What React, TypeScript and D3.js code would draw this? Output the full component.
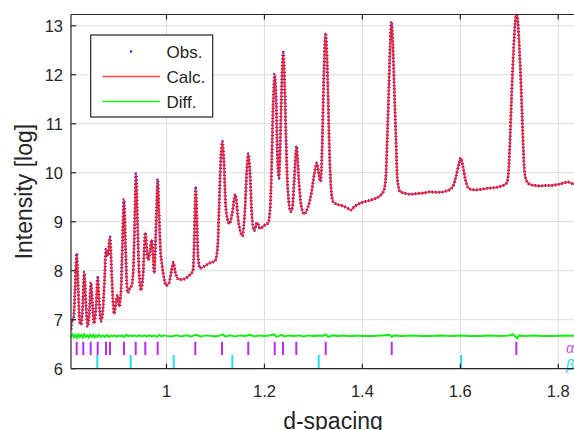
import React from 'react';
import * as d3 from 'd3';

// ---- data ----
const xTickValues = [1, 1.2, 1.4, 1.6, 1.8];
const xTickLabels = ['1', '1.2', '1.4', '1.6', '1.8'];
const yTickValues = [6, 7, 8, 9, 10, 11, 12, 13];
const yTickLabels = ['6', '7', '8', '9', '10', '11', '12', '13'];

// observed profile [d-spacing, log intensity]
const obsProfile: [number, number][] = [
  [0.805, 6.8], [0.807, 7.0], [0.8101, 7.0], [0.8132, 7.6], [0.8166, 8.35], [0.8199, 7.6], [0.8228, 6.95], [0.8254, 6.9],
  [0.8285, 7.2], [0.8321, 7.97], [0.8356, 7.3], [0.8391, 6.86],
  [0.8428, 7.2], [0.8458, 7.76], [0.8489, 7.3], [0.852, 6.92],
  [0.8564, 7.3], [0.8595, 7.86], [0.8626, 7.35], [0.8656, 6.97],
  [0.8693, 7.1], [0.8734, 7.8], [0.8765, 8.44], [0.8801, 8.3], [0.8846, 8.69], [0.8883, 7.9], [0.8928, 7.12],
  [0.8969, 7.35], [0.9004, 7.5], [0.9036, 7.27],
  [0.9071, 7.6], [0.9102, 8.6], [0.9132, 9.46], [0.9163, 8.5], [0.9204, 7.55],
  [0.9255, 7.65], [0.9289, 7.7],
  [0.9322, 8.0], [0.9351, 9.0], [0.9377, 9.98], [0.9408, 9.0], [0.9439, 8.0], [0.9479, 7.6],
  [0.952, 7.9], [0.9567, 8.78], [0.9612, 8.3], [0.9628, 8.22], [0.9663, 8.4], [0.9698, 8.63], [0.9724, 8.3], [0.9751, 7.95],
  [0.9771, 8.4], [0.9796, 9.2], [0.982, 9.87], [0.9847, 9.2], [0.9878, 8.4], [0.9908, 8.12], [0.9949, 7.85], [0.999, 7.7],
  [1.0051, 7.75], [1.0102, 8.0], [1.0139, 8.17], [1.0184, 7.95], [1.0241, 7.83],
  [1.0317, 7.82], [1.0398, 7.85], [1.048, 7.92], [1.0541, 8.0],
  [1.0558, 8.3], [1.0578, 9.1], [1.0596, 9.69], [1.0619, 9.1], [1.0643, 8.3], [1.0684, 8.05],
  [1.0786, 8.1], [1.0888, 8.16], [1.0991, 8.2], [1.1042, 8.45], [1.1075, 9.3], [1.1108, 10.25], [1.114, 10.64],
  [1.1172, 10.25], [1.1205, 9.4], [1.1246, 9.05], [1.1287, 8.96],
  [1.1338, 9.15], [1.1405, 9.56], [1.147, 9.0], [1.1552, 8.71],
  [1.1605, 9.3], [1.164, 10.05], [1.1671, 10.39], [1.1703, 10.05], [1.174, 9.2], [1.1787, 8.82],
  [1.1854, 8.98], [1.1909, 8.86], [1.1991, 8.92], [1.2079, 8.98], [1.2124, 9.4],
  [1.215, 10.3], [1.2178, 11.4], [1.221, 12.02], [1.2242, 11.4], [1.2267, 10.3], [1.2297, 9.89],
  [1.232, 10.5], [1.235, 11.7], [1.2383, 12.46], [1.2416, 11.7], [1.2448, 10.4], [1.2481, 9.6], [1.2536, 9.21], [1.2573, 9.3],
  [1.2608, 9.85], [1.2655, 10.54], [1.2702, 9.85], [1.2747, 9.35], [1.2808, 9.16],
  [1.289, 9.3], [1.2965, 9.62], [1.3022, 10.0], [1.3073, 10.2], [1.3114, 9.95], [1.3149, 9.82],
  [1.3178, 10.5], [1.3208, 11.8], [1.3251, 12.85], [1.3294, 11.8], [1.3326, 10.5], [1.3359, 9.7], [1.3406, 9.4],
  [1.3502, 9.35], [1.3611, 9.32], [1.3706, 9.27], [1.3768, 9.24], [1.3829, 9.3], [1.3917, 9.36], [1.4013, 9.4],
  [1.4094, 9.42], [1.4197, 9.45], [1.4299, 9.49], [1.438, 9.55], [1.4442, 9.65],
  [1.4478, 9.9], [1.4508, 10.7], [1.454, 11.7], [1.4567, 12.6], [1.4595, 13.08], [1.4623, 12.6], [1.4652, 11.7],
  [1.4685, 10.7], [1.4716, 9.85], [1.4768, 9.62],
  [1.4871, 9.58], [1.4973, 9.56], [1.5075, 9.57], [1.5177, 9.58], [1.5279, 9.59], [1.5381, 9.61], [1.5483, 9.6],
  [1.5585, 9.6], [1.5687, 9.62], [1.5789, 9.66], [1.5861, 9.75],
  [1.5912, 9.92], [1.5963, 10.15], [1.601, 10.3], [1.6055, 10.12], [1.6106, 9.85], [1.6157, 9.7], [1.6218, 9.66],
  [1.632, 9.65], [1.6422, 9.66], [1.6525, 9.68], [1.6627, 9.69], [1.6729, 9.7], [1.681, 9.72], [1.6892, 9.75], [1.6953, 9.8],
  [1.699, 10.1], [1.702, 10.8], [1.7052, 11.7], [1.7087, 12.5], [1.7118, 13.05], [1.7147, 13.3], [1.7177, 13.05],
  [1.7208, 12.5], [1.7243, 11.7], [1.7275, 10.8], [1.7305, 10.1], [1.7341, 9.86],
  [1.7423, 9.76], [1.7525, 9.74], [1.7627, 9.73], [1.7729, 9.74], [1.7832, 9.74], [1.7934, 9.75], [1.8036, 9.77],
  [1.8138, 9.8], [1.8199, 9.81], [1.8281, 9.78], [1.8362, 9.76],
];

// calculated profile coincides with the observed one at picture resolution
const calcProfile: [number, number][] = obsProfile;

// difference curve (offset)
const diffProfile: [number, number][] = [
  [0.805, 6.65], [0.808, 6.7], [0.811, 6.64], [0.814, 6.69], [0.817, 6.63], [0.82, 6.7], [0.823, 6.65], [0.826, 6.69],
  [0.829, 6.64], [0.832, 6.7], [0.835, 6.65], [0.838, 6.68], [0.841, 6.64], [0.844, 6.69], [0.847, 6.65], [0.85, 6.69],
  [0.853, 6.64], [0.856, 6.68], [0.859, 6.65], [0.862, 6.69], [0.866, 6.65], [0.87, 6.68], [0.874, 6.65], [0.878, 6.69],
  [0.882, 6.65], [0.886, 6.68], [0.89, 6.66], [0.894, 6.68], [0.898, 6.65], [0.902, 6.68], [0.906, 6.66], [0.91, 6.68],
  [0.914, 6.65], [0.918, 6.69], [0.922, 6.66], [0.926, 6.68], [0.93, 6.66], [0.935, 6.68], [0.94, 6.66], [0.945, 6.68],
  [0.95, 6.66], [0.955, 6.68], [0.96, 6.66], [0.965, 6.68], [0.97, 6.66], [0.975, 6.68], [0.98, 6.65], [0.985, 6.69],
  [0.99, 6.66], [0.995, 6.68], [1.0, 6.67], [1.01, 6.66], [1.02, 6.68], [1.03, 6.66], [1.04, 6.68], [1.05, 6.66],
  [1.06, 6.69], [1.07, 6.66], [1.08, 6.68], [1.09, 6.67], [1.1, 6.66], [1.11, 6.68], [1.115, 6.7], [1.12, 6.66],
  [1.13, 6.68], [1.14, 6.66], [1.15, 6.68], [1.16, 6.67], [1.17, 6.69], [1.18, 6.66], [1.19, 6.68], [1.2, 6.67],
  [1.21, 6.68], [1.22, 6.7], [1.225, 6.65], [1.235, 6.69], [1.24, 6.66], [1.25, 6.68], [1.26, 6.67], [1.27, 6.68],
  [1.28, 6.66], [1.29, 6.68], [1.3, 6.67], [1.31, 6.68], [1.32, 6.67], [1.325, 6.7], [1.33, 6.65], [1.34, 6.68],
  [1.35, 6.67], [1.36, 6.68], [1.37, 6.67], [1.38, 6.67], [1.39, 6.68], [1.4, 6.67], [1.42, 6.67], [1.44, 6.68],
  [1.455, 6.69], [1.46, 6.65], [1.465, 6.68], [1.48, 6.67], [1.5, 6.68], [1.52, 6.67], [1.54, 6.67], [1.56, 6.68],
  [1.58, 6.67], [1.6, 6.68], [1.62, 6.67], [1.64, 6.67], [1.66, 6.68], [1.68, 6.67], [1.7, 6.68], [1.708, 6.7],
  [1.712, 6.66], [1.716, 6.62], [1.72, 6.68], [1.73, 6.67], [1.75, 6.68], [1.77, 6.67], [1.79, 6.67], [1.81, 6.68],
  [1.8362, 6.67],
];

// reflection markers of the two phases
const phaseAReflections = [
  0.8166, 0.8301, 0.8452, 0.8595, 0.8765, 0.8846, 0.9132, 0.9371, 0.9567, 0.982,
  1.0588, 1.1133, 1.167, 1.221, 1.2379, 1.2651, 1.3251, 1.4599, 1.7143,
];
const phaseBReflections = [0.8587, 0.9269, 1.0147, 1.1344, 1.3108, 1.6014];
const phaseARange: [number, number] = [6.28, 6.55];
const phaseBRange: [number, number] = [6.0, 6.28];
const phaseLabels = ['α', 'β'];

const legendItems = ['Obs.', 'Calc.', 'Diff.'];

const xDomain: [number, number] = [0.805, 1.8362];
const yDomain: [number, number] = [6, 13.23];

// ---- drawing ----
const W = 574;
const H = 430;
const left = 71;
const right = 576;
const top = 14.5;
const bottom = 368.7;
const FONT = '"Liberation Sans", Arial, Helvetica, sans-serif';
const TXT = '#262626';
const RED = '#ff1414';
const BLUE = '#1c1cff';
const GREEN = '#14ee14';

export default function App() {
  const x = d3.scaleLinear().domain(xDomain).range([left, right]);
  const y = d3.scaleLinear().domain(yDomain).range([bottom, top]);

  const line = d3
    .line<[number, number]>()
    .x((p) => x(p[0]))
    .y((p) => y(p[1]))
    .curve(d3.curveMonotoneX);
  const diffLine = d3
    .line<[number, number]>()
    .x((p) => x(p[0]))
    .y((p) => y(p[1]));

  const obsPath = line(obsProfile) || '';
  const calcPath = line(calcProfile) || '';
  const diffPath = diffLine(diffProfile) || '';

  return (
    <div style={{ position: 'absolute', left: 0, top: 0 }}>
      <svg width={W} height={H} style={{ display: 'block', background: '#fff' }} fontFamily={FONT}>
        <defs>
          <clipPath id="plot">
            <rect x={left} y={top} width={right - left} height={bottom - top} />
          </clipPath>
        </defs>
        <rect x={0} y={0} width={W} height={H} fill="#fff" />
        {/* grid */}
        <g stroke="#dcdcdc" strokeWidth={1}>
          {xTickValues.map((v) => (
            <line key={'gx' + v} x1={x(v)} x2={x(v)} y1={top} y2={bottom} />
          ))}
          {yTickValues.slice(1).map((v) => (
            <line key={'gy' + v} x1={left} x2={right} y1={y(v)} y2={y(v)} />
          ))}
        </g>
        {/* data */}
        <g clipPath="url(#plot)">
          <path d={diffPath} fill="none" stroke={GREEN} strokeWidth={2} />
          {phaseAReflections.map((v, i) => (
            <line key={'a' + i} x1={x(v)} x2={x(v)} y1={y(phaseARange[0])} y2={y(phaseARange[1])} stroke="#b52ee8" strokeWidth={2} />
          ))}
          {phaseBReflections.map((v, i) => (
            <line key={'b' + i} x1={x(v)} x2={x(v)} y1={y(phaseBRange[0])} y2={y(phaseBRange[1])} stroke="#22e0e8" strokeWidth={2} />
          ))}
          <path d={obsPath} fill="none" stroke={BLUE} strokeWidth={3} strokeDasharray="1.2 2.2" />
          <path d={calcPath} fill="none" stroke={RED} strokeOpacity={0.8} strokeWidth={2} />
        </g>
        {/* phase labels at right edge */}
        <text x={566} y={353} fontSize={14} fontStyle="italic" fill="#c050f0">{phaseLabels[0]}</text>
        <text x={566} y={370} fontSize={14} fontStyle="italic" fill="#22d8e8">{phaseLabels[1]}</text>
        {/* frame */}
        <g stroke="#262626" strokeWidth={1.2} fill="none">
          <line x1={left} x2={right} y1={top} y2={top} />
          <line x1={left} x2={right} y1={bottom} y2={bottom} />
          <line x1={left} x2={left} y1={top} y2={bottom} />
          {xTickValues.map((v) => (
            <g key={'tx' + v}>
              <line x1={x(v)} x2={x(v)} y1={bottom} y2={bottom - 5} />
              <line x1={x(v)} x2={x(v)} y1={top} y2={top + 5} />
            </g>
          ))}
          {yTickValues.map((v) => (
            <line key={'ty' + v} x1={left} x2={left + 5} y1={y(v)} y2={y(v)} />
          ))}
        </g>
        {/* tick labels */}
        <g fontSize={16.5} fill={TXT}>
          {xTickValues.map((v, i) => (
            <text key={'lx' + v} x={x(v)} y={396.5} textAnchor="middle">{xTickLabels[i]}</text>
          ))}
          {yTickValues.map((v, i) => (
            <text key={'ly' + v} x={63} y={y(v) + 6} textAnchor="end">{yTickLabels[i]}</text>
          ))}
        </g>
        {/* axis labels */}
        <text x={333} y={428.5} fontSize={23} fill={TXT} textAnchor="middle">d-spacing</text>
        <text transform={`translate(32,${(top + bottom) / 2}) rotate(-90)`} fontSize={23} fill={TXT} textAnchor="middle">
          Intensity [log]
        </text>
        {/* legend */}
        <g>
          <rect x={90.7} y={35} width={122} height={82} fill="#fff" stroke="#262626" strokeWidth={1.2} />
          <circle cx={131} cy={51.5} r={1.2} fill={BLUE} />
          <line x1={102.5} x2={160} y1={76.5} y2={76.5} stroke={RED} strokeOpacity={0.8} strokeWidth={1.5} />
          <line x1={102.5} x2={160} y1={101.5} y2={101.5} stroke={GREEN} strokeWidth={1.5} />
          {legendItems.map((t, i) => (
            <text key={t} x={166.5} y={57.5 + i * 25} fontSize={17} fill={TXT}>{t}</text>
          ))}
        </g>
      </svg>
    </div>
  );
}
